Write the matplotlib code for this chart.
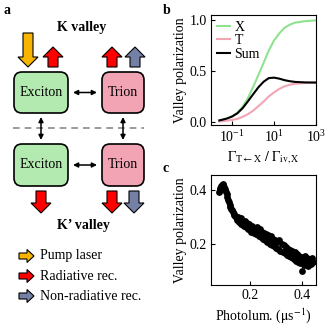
import matplotlib
matplotlib.use('Agg')
import matplotlib.pyplot as plt
from matplotlib.patches import FancyBboxPatch, Polygon
import numpy as np

plt.rcParams['font.family'] = ['Liberation Serif', 'DejaVu Serif']
plt.rcParams['mathtext.fontset'] = 'stix'
plt.rcParams['font.size'] = 10

# panel b: valley polarization vs rate ratio
ratio = [0.025, 0.032, 0.056, 0.1, 0.18, 0.32, 0.56, 1.0, 1.8, 3.2,
         5.6, 10, 18, 32, 56, 100, 320, 1000]
pol_x = [0.015, 0.02, 0.033, 0.055, 0.09, 0.15, 0.23, 0.34, 0.46, 0.58,
         0.70, 0.80, 0.87, 0.925, 0.955, 0.975, 0.99, 0.997]
pol_t = [0.005, 0.007, 0.012, 0.02, 0.03, 0.05, 0.075, 0.11, 0.155, 0.2,
         0.25, 0.29, 0.325, 0.35, 0.365, 0.375, 0.383, 0.385]
pol_sum = [0.015, 0.02, 0.033, 0.053, 0.085, 0.135, 0.2, 0.27, 0.34, 0.395,
           0.43, 0.435, 0.425, 0.41, 0.40, 0.393, 0.388, 0.387]

# panel c: measured valley polarization vs photoluminescence
photolum = [0.080, 0.083, 0.086, 0.089, 0.092, 0.095, 0.098, 0.101, 0.104, 0.107,
            0.110, 0.113, 0.116, 0.119, 0.122, 0.125, 0.128, 0.131, 0.134, 0.137,
            0.140, 0.143, 0.146, 0.149, 0.152, 0.155, 0.158, 0.161, 0.164, 0.167,
            0.170, 0.174, 0.178, 0.182, 0.186, 0.190, 0.194, 0.198, 0.202, 0.206,
            0.210, 0.214, 0.218, 0.222, 0.226, 0.230, 0.234, 0.238, 0.242, 0.246,
            0.250, 0.254, 0.258, 0.262, 0.266, 0.270, 0.274, 0.278, 0.282, 0.286,
            0.290, 0.294, 0.298, 0.302, 0.306, 0.310, 0.314, 0.318, 0.322, 0.326,
            0.330, 0.334, 0.338, 0.342, 0.346, 0.350, 0.354, 0.358, 0.362, 0.366,
            0.370, 0.374, 0.378, 0.382, 0.386, 0.390, 0.394, 0.398, 0.402, 0.406,
            0.410, 0.414, 0.418, 0.422, 0.426, 0.430, 0.434, 0.438, 0.442]
valley_pol = [0.393, 0.400, 0.407, 0.413, 0.418, 0.421, 0.419, 0.412, 0.403, 0.394,
              0.384, 0.374, 0.364, 0.355, 0.346, 0.338, 0.331, 0.325, 0.319, 0.313,
              0.308, 0.304, 0.300, 0.297, 0.290, 0.300, 0.283, 0.290, 0.296, 0.276,
              0.286, 0.272, 0.266, 0.284, 0.262, 0.280, 0.258, 0.275, 0.252, 0.246,
              0.268, 0.240, 0.258, 0.236, 0.263, 0.240, 0.230, 0.256, 0.226, 0.246,
              0.220, 0.243, 0.215, 0.237, 0.208, 0.233, 0.222, 0.202, 0.229, 0.198,
              0.221, 0.193, 0.216, 0.188, 0.210, 0.183, 0.215, 0.177, 0.201, 0.172,
              0.197, 0.166, 0.190, 0.160, 0.184, 0.155, 0.180, 0.152, 0.174, 0.150,
              0.146, 0.172, 0.140, 0.164, 0.134, 0.158, 0.130, 0.153, 0.100, 0.143,
              0.123, 0.156, 0.130, 0.149, 0.121, 0.143, 0.128, 0.150, 0.136]

ORANGE = '#f7b500'
RED = '#ff0000'
SLATE = '#7580a6'
GREEN_BOX = '#b2eab0'
PINK_BOX = '#f2a3b4'
GREEN_LINE = '#8fe28f'
PINK_LINE = '#f3a5b5'


def block_arrow(ax, x0, y0, x1, y1, color, sw=10, hw=20, hl=10):
    # filled block arrow from (x0, y0) to tip (x1, y1)
    d = np.array([x1 - x0, y1 - y0], dtype=float)
    length = np.hypot(*d)
    d /= length
    n = np.array([-d[1], d[0]])
    p0 = np.array([x0, y0], dtype=float)
    neck = p0 + d * (length - hl)
    pts = [p0 + n * sw / 2, neck + n * sw / 2, neck + n * hw / 2,
           np.array([x1, y1]), neck - n * hw / 2, neck - n * sw / 2,
           p0 - n * sw / 2]
    ax.add_patch(Polygon(pts, closed=True, facecolor=color,
                         edgecolor='black', lw=0.8, joinstyle='miter'))


def box(ax, x0, y0, x1, y1, color, label):
    ax.add_patch(FancyBboxPatch((x0, y0), x1 - x0, y1 - y0,
                                boxstyle='round,pad=0,rounding_size=8',
                                facecolor=color, edgecolor='black', lw=1.2))
    ax.text((x0 + x1) / 2, (y0 + y1) / 2, label, ha='center', va='center',
            fontsize=10)


def double_arrow(ax, x0, y0, x1, y1):
    ax.annotate('', xy=(x1, y1), xytext=(x0, y0),
                arrowprops=dict(arrowstyle='<|-|>', lw=1.1, color='black',
                                mutation_scale=7, shrinkA=0, shrinkB=0))


fig = plt.figure(figsize=(3.25, 3.25), dpi=100)

# ---- panel a: diagram, drawn in pixel-like coordinates
ax_a = fig.add_axes([0, 0, 165 / 325, 1])
ax_a.set_xlim(0, 165)
ax_a.set_ylim(325, 0)
ax_a.axis('off')

ax_a.text(4, 11, 'a', fontweight='bold', fontsize=10, va='center')
ax_a.text(82, 27, 'K valley', fontweight='bold', fontsize=10,
          ha='center', va='center')

block_arrow(ax_a, 28, 33, 28, 67, ORANGE)
block_arrow(ax_a, 53, 67, 53, 47, RED)
block_arrow(ax_a, 112, 67, 112, 47, RED)
block_arrow(ax_a, 135, 67, 135, 47, SLATE)

box(ax_a, 14, 72, 68, 113, GREEN_BOX, 'Exciton')
box(ax_a, 102, 72, 144, 113, PINK_BOX, 'Trion')
double_arrow(ax_a, 73, 92.5, 97, 92.5)

ax_a.plot([13, 144], [128, 128], color='#8a8a8a', lw=1.2, dashes=(4, 3))
double_arrow(ax_a, 41, 117, 41, 140)
double_arrow(ax_a, 123, 117, 123, 140)

box(ax_a, 14, 144, 68, 186, GREEN_BOX, 'Exciton')
box(ax_a, 102, 144, 144, 186, PINK_BOX, 'Trion')
double_arrow(ax_a, 73, 165, 97, 165)

block_arrow(ax_a, 41, 191, 41, 213, RED)
block_arrow(ax_a, 112, 191, 112, 213, RED)
block_arrow(ax_a, 134, 191, 134, 213, SLATE)

ax_a.text(83, 226, 'K\u2019 valley', fontweight='bold', fontsize=10,
          ha='center', va='center')

legend_items = [(ORANGE, 'Pump laser'), (RED, 'Radiative rec.'),
                (SLATE, 'Non-radiative rec.')]
for i, (col, lab) in enumerate(legend_items):
    yy = 256 + 20 * i
    block_arrow(ax_a, 19, yy, 34, yy, col, sw=6, hw=13, hl=7)
    ax_a.text(40, yy, lab, fontsize=10, va='center')

# ---- panel b
ax_b = fig.add_axes([211 / 325, 1 - 125 / 325, 105 / 325, 110 / 325])
ax_b.plot(ratio, pol_x, color=GREEN_LINE, lw=1.5, label='X')
ax_b.plot(ratio, pol_t, color=PINK_LINE, lw=1.5, label='T')
ax_b.plot(ratio, pol_sum, color='black', lw=1.5, label='Sum')
ax_b.set_xscale('log')
ax_b.set_xlim(0.01, 1000)
ax_b.set_ylim(-0.03, 1.05)
ax_b.set_xticks([0.1, 10, 1000])
ax_b.minorticks_off()
ax_b.set_yticks([0.0, 0.5, 1.0])
ax_b.set_ylabel('Valley polarization', labelpad=2)
ax_b.set_xlabel(r'$\Gamma_{\mathrm{T}\leftarrow\mathrm{X}}\ /\ \Gamma_{\mathrm{iv,X}}$',
                labelpad=3)
ax_b.legend(loc='upper left', frameon=False, fontsize=10, handlelength=1.0,
            handletextpad=0.3, labelspacing=0.05, borderpad=0.2,
            borderaxespad=0.2)
fig.text(163 / 325, 1 - 10 / 325, 'b', fontweight='bold', fontsize=10,
         va='center')

# ---- panel c
ax_c = fig.add_axes([211 / 325, 1 - 285 / 325, 105 / 325, 110 / 325])
ax_c.scatter(photolum, valley_pol, s=24, color='black', linewidths=0)
ax_c.set_xlim(0.05, 0.455)
ax_c.set_ylim(0.05, 0.455)
ax_c.set_xticks([0.2, 0.4])
ax_c.set_yticks([0.2, 0.4])
ax_c.set_ylabel('Valley polarization', labelpad=2)
ax_c.set_xlabel(r'Photolum. ($\mathrm{\mu}$s$^{-1}$)', labelpad=3)
fig.text(163 / 325, 1 - 168 / 325, 'c', fontweight='bold', fontsize=10,
         va='center')

for ax in (ax_b, ax_c):
    ax.tick_params(direction='in', length=3, width=0.8, pad=3)
    for sp in ax.spines.values():
        sp.set_linewidth(0.8)

fig.savefig('out.png', dpi=100)
plt.close(fig)
